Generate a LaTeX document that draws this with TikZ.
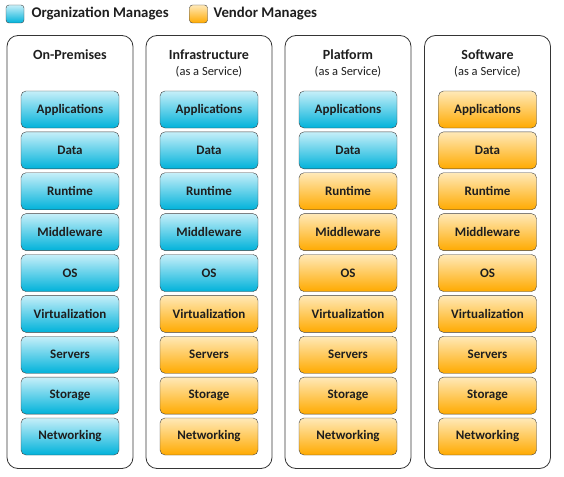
\documentclass[tikz,border=0pt]{standalone}
\usepackage{fontspec}
\setmainfont{Carlito}
\usepackage{tikz}
\definecolor{orgtop}{HTML}{C6EFF9}
\definecolor{orgmid}{HTML}{3CCAEA}
\definecolor{orgbot}{HTML}{00B2DA}
\definecolor{vndtop}{HTML}{FFE9B8}
\definecolor{vndmid}{HTML}{FFC040}
\definecolor{vndbot}{HTML}{FFAA00}
\definecolor{inkgray}{HTML}{1E1E1E}

\tikzset{
  layer/.style={draw=inkgray!85,rounded corners=5pt,minimum width=98pt,
    minimum height=37pt,inner sep=0pt,text=inkgray,
    font=\bfseries\fontsize{13}{15}\selectfont},
  panel/.style={draw=inkgray!90,line width=0.8pt,rounded corners=11pt},
  paneltitle/.style={text=inkgray,font=\bfseries\fontsize{14}{16}\selectfont},
  panelsub/.style={text=inkgray,font=\fontsize{12.5}{14}\selectfont},
  swatch/.style={draw=inkgray!85,rounded corners=3pt,minimum size=18pt,inner sep=0pt},
  legendtext/.style={text=inkgray,anchor=west,font=\bfseries\fontsize{14.8}{17}\selectfont}
}

\begin{document}
\begin{tikzpicture}[x=1pt,y=-1pt]
  \useasboundingbox (0,0) rectangle (564,476);

  % legend
  \node[swatch,top color=orgtop,bottom color=orgbot] (orgkey) at (15,14) {};
  \node[legendtext] (orgtxt) at (28,14) {Organization Manages};
  \node[swatch,top color=vndtop,bottom color=vndbot] (vndkey) at (198.5,14) {};
  \node[legendtext] (vndtxt) at (210,14) {Vendor Manages};

  % the four stacks
  \foreach \cx/\title/\sub/\norg [count=\c] in
      {70/On-Premises//9,
       209/Infrastructure/(as a Service)/5,
       348/Platform/(as a Service)/2,
       487.5/Software/(as a Service)/0} {
    \draw[panel] (\cx-63,35.5) rectangle (\cx+63,468.5);
    \node[paneltitle] (title\c) at (\cx,54.5) {\title};
    \node[panelsub] (sub\c) at (\cx,72) {\sub};
    \foreach \lbl [count=\r] in {Applications,Data,Runtime,Middleware,OS,
        Virtualization,Servers,Storage,Networking} {
      \ifnum\r>\norg \def\tone{vnd}\else\def\tone{org}\fi
      \node[layer,top color=\tone top,middle color=\tone mid,
        bottom color=\tone bot] (box\c-\r) at (\cx,{109.5+40.875*(\r-1)}) {\lbl};
    }
  }
\end{tikzpicture}
\end{document}
